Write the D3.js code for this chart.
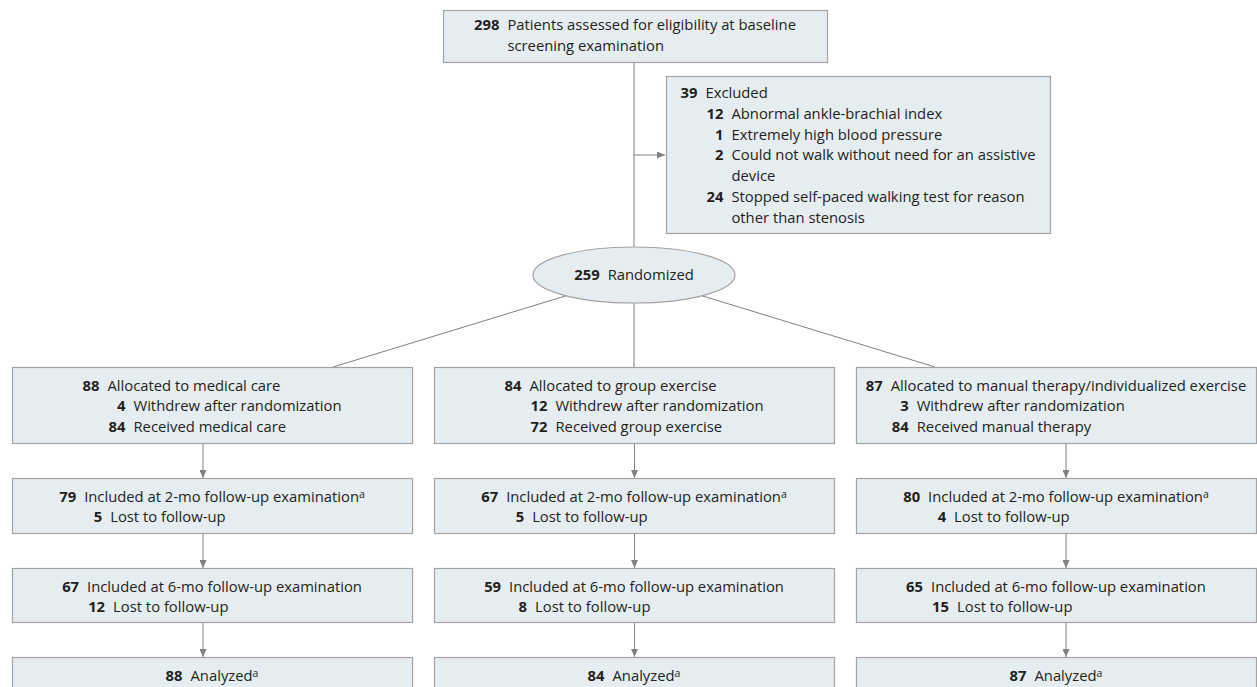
<!DOCTYPE html>
<html>
<head>
<meta charset="utf-8">
<script src="https://cdn.jsdelivr.net/npm/d3@7"></script>
<style>
    body { margin: 0; background: #fff; }
    text { font-family: "Open Sans", "Noto Sans", sans-serif; font-size: 14.8px; fill: #231f20; }
    text.num { font-weight: bold; }
    tspan.sup { font-size: 10.5px; }
</style>
</head>
<body>
<script>
"use strict";

// ---- values ----
const screened = 298;
const screenedText = ["Patients assessed for eligibility at baseline", "screening examination"];

const excluded = 39;
const excludedCounts = [12, 1, 2, 24];
const excludedReasons = [
    ["Abnormal ankle-brachial index"],
    ["Extremely high blood pressure"],
    ["Could not walk without need for an assistive", "device"],
    ["Stopped self-paced walking test for reason", "other than stenosis"]
];

const randomized = 259;

const arms = ["medical care", "group exercise", "manual therapy/individualized exercise"];
const receivedLabels = ["medical care", "group exercise", "manual therapy"];
const allocated = [88, 84, 87];
const withdrew = [4, 12, 3];
const received = [84, 72, 84];
const included2mo = [79, 67, 80];
const lost2mo = [5, 5, 4];
const included6mo = [67, 59, 65];
const lost6mo = [12, 8, 15];
const analyzed = [88, 84, 87];

const stages = ["allocated", "2mo", "6mo", "analyzed"];

// ---- layout ----
const width = 1257, height = 687;
const lineH = 20.8, numGap = 8, indent = 26;
const fill = "#e6edf1", stroke = "#a3a3a3", lineCol = "#808080";

let svg = d3.select("body").append("svg")
    .attr("width", width)
    .attr("height", height);

svg.append("defs").append("marker")
    .attr("id", "arrow")
    .attr("markerUnits", "userSpaceOnUse")
    .attr("viewBox", "0 0 8 7")
    .attr("refX", 8).attr("refY", 3.5)
    .attr("markerWidth", 8).attr("markerHeight", 7)
    .attr("orient", "auto")
    .append("path")
    .attr("d", "M0,0 L8,3.5 L0,7 Z")
    .attr("fill", lineCol);

// columns for the three arms
let x = d3.scaleBand()
    .domain(arms)
    .range([12, 1256])
    .paddingInner(0.052)
    .paddingOuter(0);

// where the vertical arrows run in each column
let xArrow = d3.scalePoint()
    .domain(arms)
    .range([203, 1066]);

// where the diagonal lines from the ellipse land
let xSplit = d3.scalePoint()
    .domain(arms)
    .range([333, 935]);

let yTop = d3.scaleOrdinal().domain(stages).range([367, 478, 568, 657]);
let yH = d3.scaleOrdinal().domain(stages).range([76, 55, 54, 40]);

// draw a block of "N label" rows, centred on cx
function drawBlock(g, items, cx, y0) {
    let y = y0;
    items.forEach(function (it) {
        let nx = it.level * indent;
        g.append("text")
            .attr("class", "num")
            .attr("x", nx).attr("y", y)
            .attr("text-anchor", "end")
            .text(it.n);
        it.lines.forEach(function (ln, j) {
            let t = g.append("text")
                .attr("x", nx + numGap).attr("y", y)
                .text(ln);
            if (it.sup && j === it.lines.length - 1) {
                t.append("tspan").attr("class", "sup").attr("dy", -4).text("a");
            }
            y += lineH;
        });
    });
    let bb = g.node().getBBox();
    g.attr("transform", "translate(" + (cx - bb.x - bb.width / 2) + ",0)");
}

function box(x0, y0, w, h) {
    svg.append("rect")
        .attr("x", x0 + 0.5).attr("y", y0 + 0.5)
        .attr("width", w).attr("height", h)
        .attr("fill", fill)
        .attr("stroke", stroke)
        .attr("stroke-width", 1.2);
}

function line(x1, y1, x2, y2, arrow) {
    let l = svg.append("line")
        .attr("x1", x1).attr("y1", y1)
        .attr("x2", x2).attr("y2", y2)
        .attr("stroke", lineCol)
        .attr("stroke-width", 1);
    if (arrow) l.attr("marker-end", "url(#arrow)");
}

// ---- top: screening, exclusion, randomization ----
let topBox = {x: 443, y: 10, w: 384, h: 52};
let exBox = {x: 666, y: 76, w: 384, h: 157};
let ell = {cx: 634, cy: 275, rx: 101, ry: 28};

line(634, topBox.y + topBox.h, 634, ell.cy - ell.ry);
line(634, 155, exBox.x - 1, 155, true);

box(topBox.x, topBox.y, topBox.w, topBox.h);
drawBlock(svg.append("g"),
    [{n: screened, level: 0, lines: screenedText}],
    topBox.x + topBox.w / 2, topBox.y + 20);

box(exBox.x, exBox.y, exBox.w, exBox.h);
drawBlock(svg.append("g"),
    [{n: excluded, level: 0, lines: ["Excluded"]}].concat(
        excludedCounts.map(function (n, i) {
            return {n: n, level: 1, lines: excludedReasons[i]};
        })),
    exBox.x + exBox.w / 2, exBox.y + 22);

// split lines from the ellipse to each arm
arms.forEach(function (a) {
    let tx = xSplit(a), ty = yTop("allocated");
    let dx = tx - ell.cx, dy = ty - ell.cy;
    let t = 1 / Math.sqrt((dx / ell.rx) * (dx / ell.rx) + (dy / ell.ry) * (dy / ell.ry));
    line(ell.cx + dx * t, ell.cy + dy * t, tx, ty);
});

svg.append("ellipse")
    .attr("cx", ell.cx).attr("cy", ell.cy)
    .attr("rx", ell.rx).attr("ry", ell.ry)
    .attr("fill", fill)
    .attr("stroke", stroke)
    .attr("stroke-width", 1.2);
drawBlock(svg.append("g"),
    [{n: randomized, level: 0, lines: ["Randomized"]}],
    ell.cx, ell.cy + 5);

// ---- the three arms ----
arms.forEach(function (a, i) {
    let content = {
        "allocated": [
            {n: allocated[i], level: 0, lines: ["Allocated to " + a]},
            {n: withdrew[i], level: 1, lines: ["Withdrew after randomization"]},
            {n: received[i], level: 1, lines: ["Received " + receivedLabels[i]]}
        ],
        "2mo": [
            {n: included2mo[i], level: 0, lines: ["Included at 2-mo follow-up examination"], sup: true},
            {n: lost2mo[i], level: 1, lines: ["Lost to follow-up"]}
        ],
        "6mo": [
            {n: included6mo[i], level: 0, lines: ["Included at 6-mo follow-up examination"]},
            {n: lost6mo[i], level: 1, lines: ["Lost to follow-up"]}
        ],
        "analyzed": [
            {n: analyzed[i], level: 0, lines: ["Analyzed"], sup: true}
        ]
    };

    stages.forEach(function (s, k) {
        if (k > 0) {
            let prev = stages[k - 1];
            line(xArrow(a), yTop(prev) + yH(prev) + 1, xArrow(a), yTop(s), true);
        }
        box(x(a), yTop(s), x.bandwidth(), yH(s));
        drawBlock(svg.append("g"), content[s], x(a) + x.bandwidth() / 2, yTop(s) + 23.5);
    });
});
</script>
</body>
</html>
